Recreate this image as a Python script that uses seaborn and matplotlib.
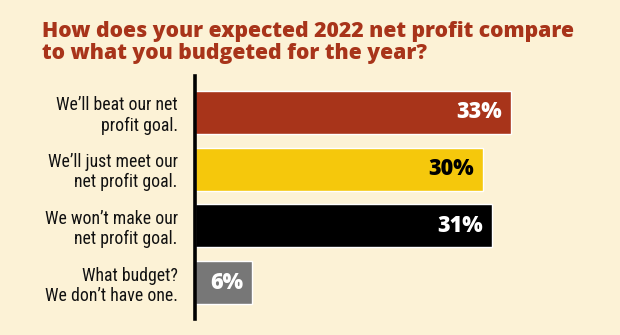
import matplotlib
matplotlib.use("Agg")
import matplotlib.pyplot as plt
from matplotlib import font_manager
import seaborn as sns
import pandas as pd

categories = [
    "We\u2019ll beat our net\nprofit goal.",
    "We\u2019ll just meet our\nnet profit goal.",
    "We won\u2019t make our\nnet profit goal.",
    "What budget?\nWe don\u2019t have one.",
]
values = [33, 30, 31, 6]
bar_colors = ["#A8341A", "#F5C80C", "#000000", "#777777"]
label_colors = ["white", "black", "white", "white"]
title = "How does your expected 2022 net profit compare\nto what you budgeted for the year?"

names = {f.name for f in font_manager.fontManager.ttflist}
def pick(*fams):
    for f in fams:
        if f in names:
            return f
    return "DejaVu Sans"

title_font = pick("Open Sans", "Lato", "DejaVu Sans")
cat_font = pick("Roboto Condensed", "Liberation Sans Narrow", "Roboto", "DejaVu Sans")
num_font = pick("Open Sans", "Lato", "DejaVu Sans")

bg = "#FCF2D6"
sns.set_theme(style="white")
plt.rcParams["font.family"] = [cat_font, "DejaVu Sans"]

df = pd.DataFrame({"category": categories, "value": values})

fig = plt.figure(figsize=(6.2, 3.35), dpi=100)
fig.patch.set_facecolor(bg)
W, H = 620, 335
ax = fig.add_axes([194.5 / W, (H - 319) / H, (W - 194.5) / W, 243 / H])
ax.set_facecolor(bg)

sns.barplot(data=df, x="value", y="category", hue="category",
            palette=bar_colors, orient="h", width=0.76, legend=False,
            saturation=1, ax=ax)

ax.set_xlim(0, (W - 194.5) / 9.6)
ax.set_ylim(3.644, -0.644)
for s in ["top", "right", "bottom"]:
    ax.spines[s].set_visible(False)
ax.spines["left"].set_color("black")
ax.spines["left"].set_linewidth(2.6)
ax.spines["left"].set_zorder(5)
ax.set_xticks([])
ax.set_xlabel("")
ax.set_ylabel("")
ax.tick_params(axis="y", length=0, pad=12)
for lab in ax.get_yticklabels():
    lab.set_fontsize(12.8)
    lab.set_fontfamily([cat_font, "DejaVu Sans"])
    lab.set_color("#111111")
    lab.set_linespacing(1.15)

for i, (v, c) in enumerate(zip(values, label_colors)):
    ax.annotate(f"{v}%", xy=(v, i), xytext=(-6.5, 0), textcoords="offset points",
                ha="right", va="center", color=c, fontsize=15.5,
                fontweight="heavy", family=[num_font, "DejaVu Sans"])

fig.text(42 / W, 1 - 21 / H, title, ha="left", va="top", color="#A8341A",
         fontsize=15.2, fontweight="heavy", family=[title_font, "DejaVu Sans"],
         linespacing=1.05)

fig.savefig("out.png", dpi=100, facecolor=bg)
